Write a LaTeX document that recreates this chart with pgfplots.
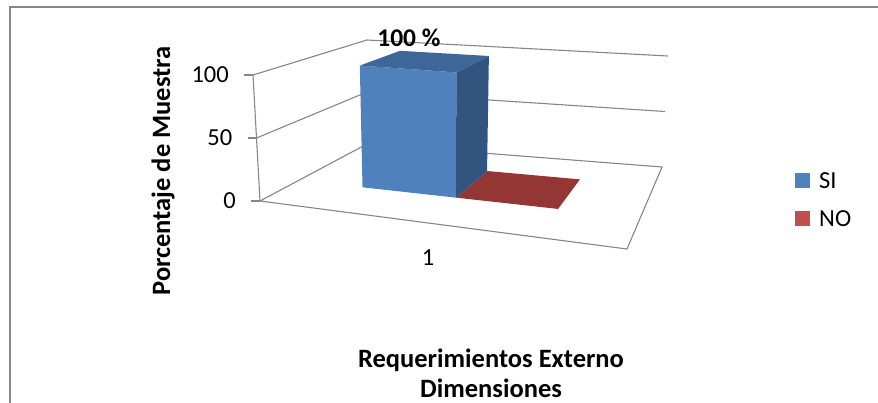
\documentclass[border=0pt]{standalone}
\usepackage{fontspec}
\setmainfont{Carlito}
\usepackage{pgfplots}
\pgfplotsset{compat=1.18}

\definecolor{siblue}{HTML}{4F81BD}
\definecolor{sitop}{HTML}{3E6699}
\definecolor{siside}{HTML}{32547F}
\definecolor{nored}{HTML}{C0504D}
\definecolor{notop}{HTML}{943634}
\definecolor{gridgray}{HTML}{868686}
\definecolor{framegray}{HTML}{868686}

% X: position along the category axis (0..1), Y: depth (0 front, 1 back),
% Z: value in percent. proj maps them onto the drawing plane.
\pgfplotsset{
  /pgfplots/table/proj/.style={
    x expr={pu(\thisrow{X},\thisrow{Y},\thisrow{Z})},
    y expr={pv(\thisrow{X},\thisrow{Y},\thisrow{Z})}},
}

\begin{document}
\begin{tikzpicture}
\begin{axis}[
  scale only axis, width=878pt, height=403pt,
  xmin=0, xmax=878, ymin=0, ymax=403, y dir=reverse,
  hide axis, clip=false,
  declare function={
    hw(\X,\Y)=1-0.22881*\X+0.27122*\Y;
    pu(\X,\Y,\Z)=(223.54*\X+206.54*\Y+260)/hw(\X,\Y)
       +\Z/100*(-7*(1-\X)*(1-\Y)+4*\X*(1-\Y)+6*\X*\Y);
    pv(\X,\Y,\Z)=(-8.97*\X-17.94*\Y+201)/hw(\X,\Y)
       +\Z/100*(-126*(1-\X)*(1-\Y)-139.7*\X*(1-\Y)-111*\X*\Y-104*(1-\X)*\Y);
  },
  legend style={at={(0.9055,0.578)}, anchor=north west, draw=none, fill=none,
    font=\fontsize{24.5}{29}\selectfont, row sep=17pt, inner sep=0pt,
    /tikz/every odd column/.append style={column sep=7pt}},
  legend cell align=left,
  legend image code/.code={\fill[#1] (0pt,-7pt) rectangle (15pt,8pt);},
]

% walls: gridlines at 100 and 50 on the side and back walls
\addplot[gridgray, line width=1.1pt, forget plot] table[proj] {
X Y Z
0 0 100
0 1 100
1 1 100
};
\addplot[gridgray, line width=1.1pt, forget plot] table[proj] {
X Y Z
0 0 50
0 1 50
1 1 50
};
% floor outline
\addplot[gridgray, line width=1.1pt, forget plot] table[proj] {
X Y Z
0 0 0
1 0 0
1 1 0
0 1 0
} -- cycle;
% value axis line
\addplot[gridgray, line width=1.1pt, forget plot] table[proj] {
X Y Z
0 0 0
0 0 100
};
% tick marks
\addplot[gridgray, line width=1.1pt, only marks, mark=-, mark size=4.5pt, forget plot]
  table[x expr={pu(\thisrow{X},\thisrow{Y},\thisrow{Z})-4.5},
        y expr={pv(\thisrow{X},\thisrow{Y},\thisrow{Z})}] {
X Y Z
0 0 0
0 0 50
0 0 100
};
% tick labels
\addplot[draw=none, mark=none, forget plot, nodes near coords,
  point meta=explicit symbolic,
  every node near coord/.append style={anchor=east, xshift=-24pt, inner sep=0pt,
    font=\fontsize{24.5}{29}\selectfont}]
  table[proj, meta=Z] {
X Y Z
0 0 0
0 0 50
0 0 100
};

% NO: value 0, only its top face shows on the floor
\addplot[fill=notop, draw=none, forget plot] table[proj] {
X Y Z
0.52 0.31 0
0.80 0.31 0
0.80 0.71 0
0.52 0.71 0
} -- cycle;

% SI: value 100
\addplot[fill=siblue, draw=none, forget plot] table[proj] {
X Y Z
0.225 0.31 0
0.52 0.31 0
0.52 0.31 100
0.225 0.31 100
} -- cycle;
\addplot[fill=siside, draw=none, forget plot] table[proj] {
X Y Z
0.52 0.31 0
0.52 0.71 0
0.52 0.71 100
0.52 0.31 100
} -- cycle;
\addplot[fill=sitop, draw=none, forget plot] table[proj] {
X Y Z
0.225 0.31 100
0.52 0.31 100
0.52 0.71 100
0.225 0.71 100
} -- cycle;
% data label of SI
\addplot[draw=none, mark=none, forget plot, nodes near coords={\pgfplotspointmeta\ \%},
  point meta=explicit symbolic,
  every node near coord/.append style={anchor=south, xshift=-16pt, yshift=13pt,
    inner sep=0pt, font=\bfseries\fontsize{25.5}{30}\selectfont}]
  table[proj, meta=Z] {
X Y Z
0.37 0.51 100
};

\addlegendimage{fill=siblue, draw=none}
\addlegendentry{SI}
\addlegendimage{fill=nored, draw=none}
\addlegendentry{NO}

% chart frame
\draw[framegray, line width=2pt] (axis cs:10,403) -- (axis cs:10,7) -- (axis cs:878,7);

\node[rotate=90, font=\bfseries\fontsize{26.5}{31}\selectfont] at (axis cs:163,171)
  {Porcentaje de Muestra};
\node[align=center, font=\bfseries\fontsize{26.5}{30}\selectfont] at (axis cs:491,373)
  {Requerimientos Externo\\Dimensiones};
\node[font=\fontsize{24.5}{29}\selectfont] at (axis cs:428,258) {1};
\end{axis}
\pgfresetboundingbox
\path (0,0) rectangle (878pt,403pt);
\end{tikzpicture}
\end{document}
